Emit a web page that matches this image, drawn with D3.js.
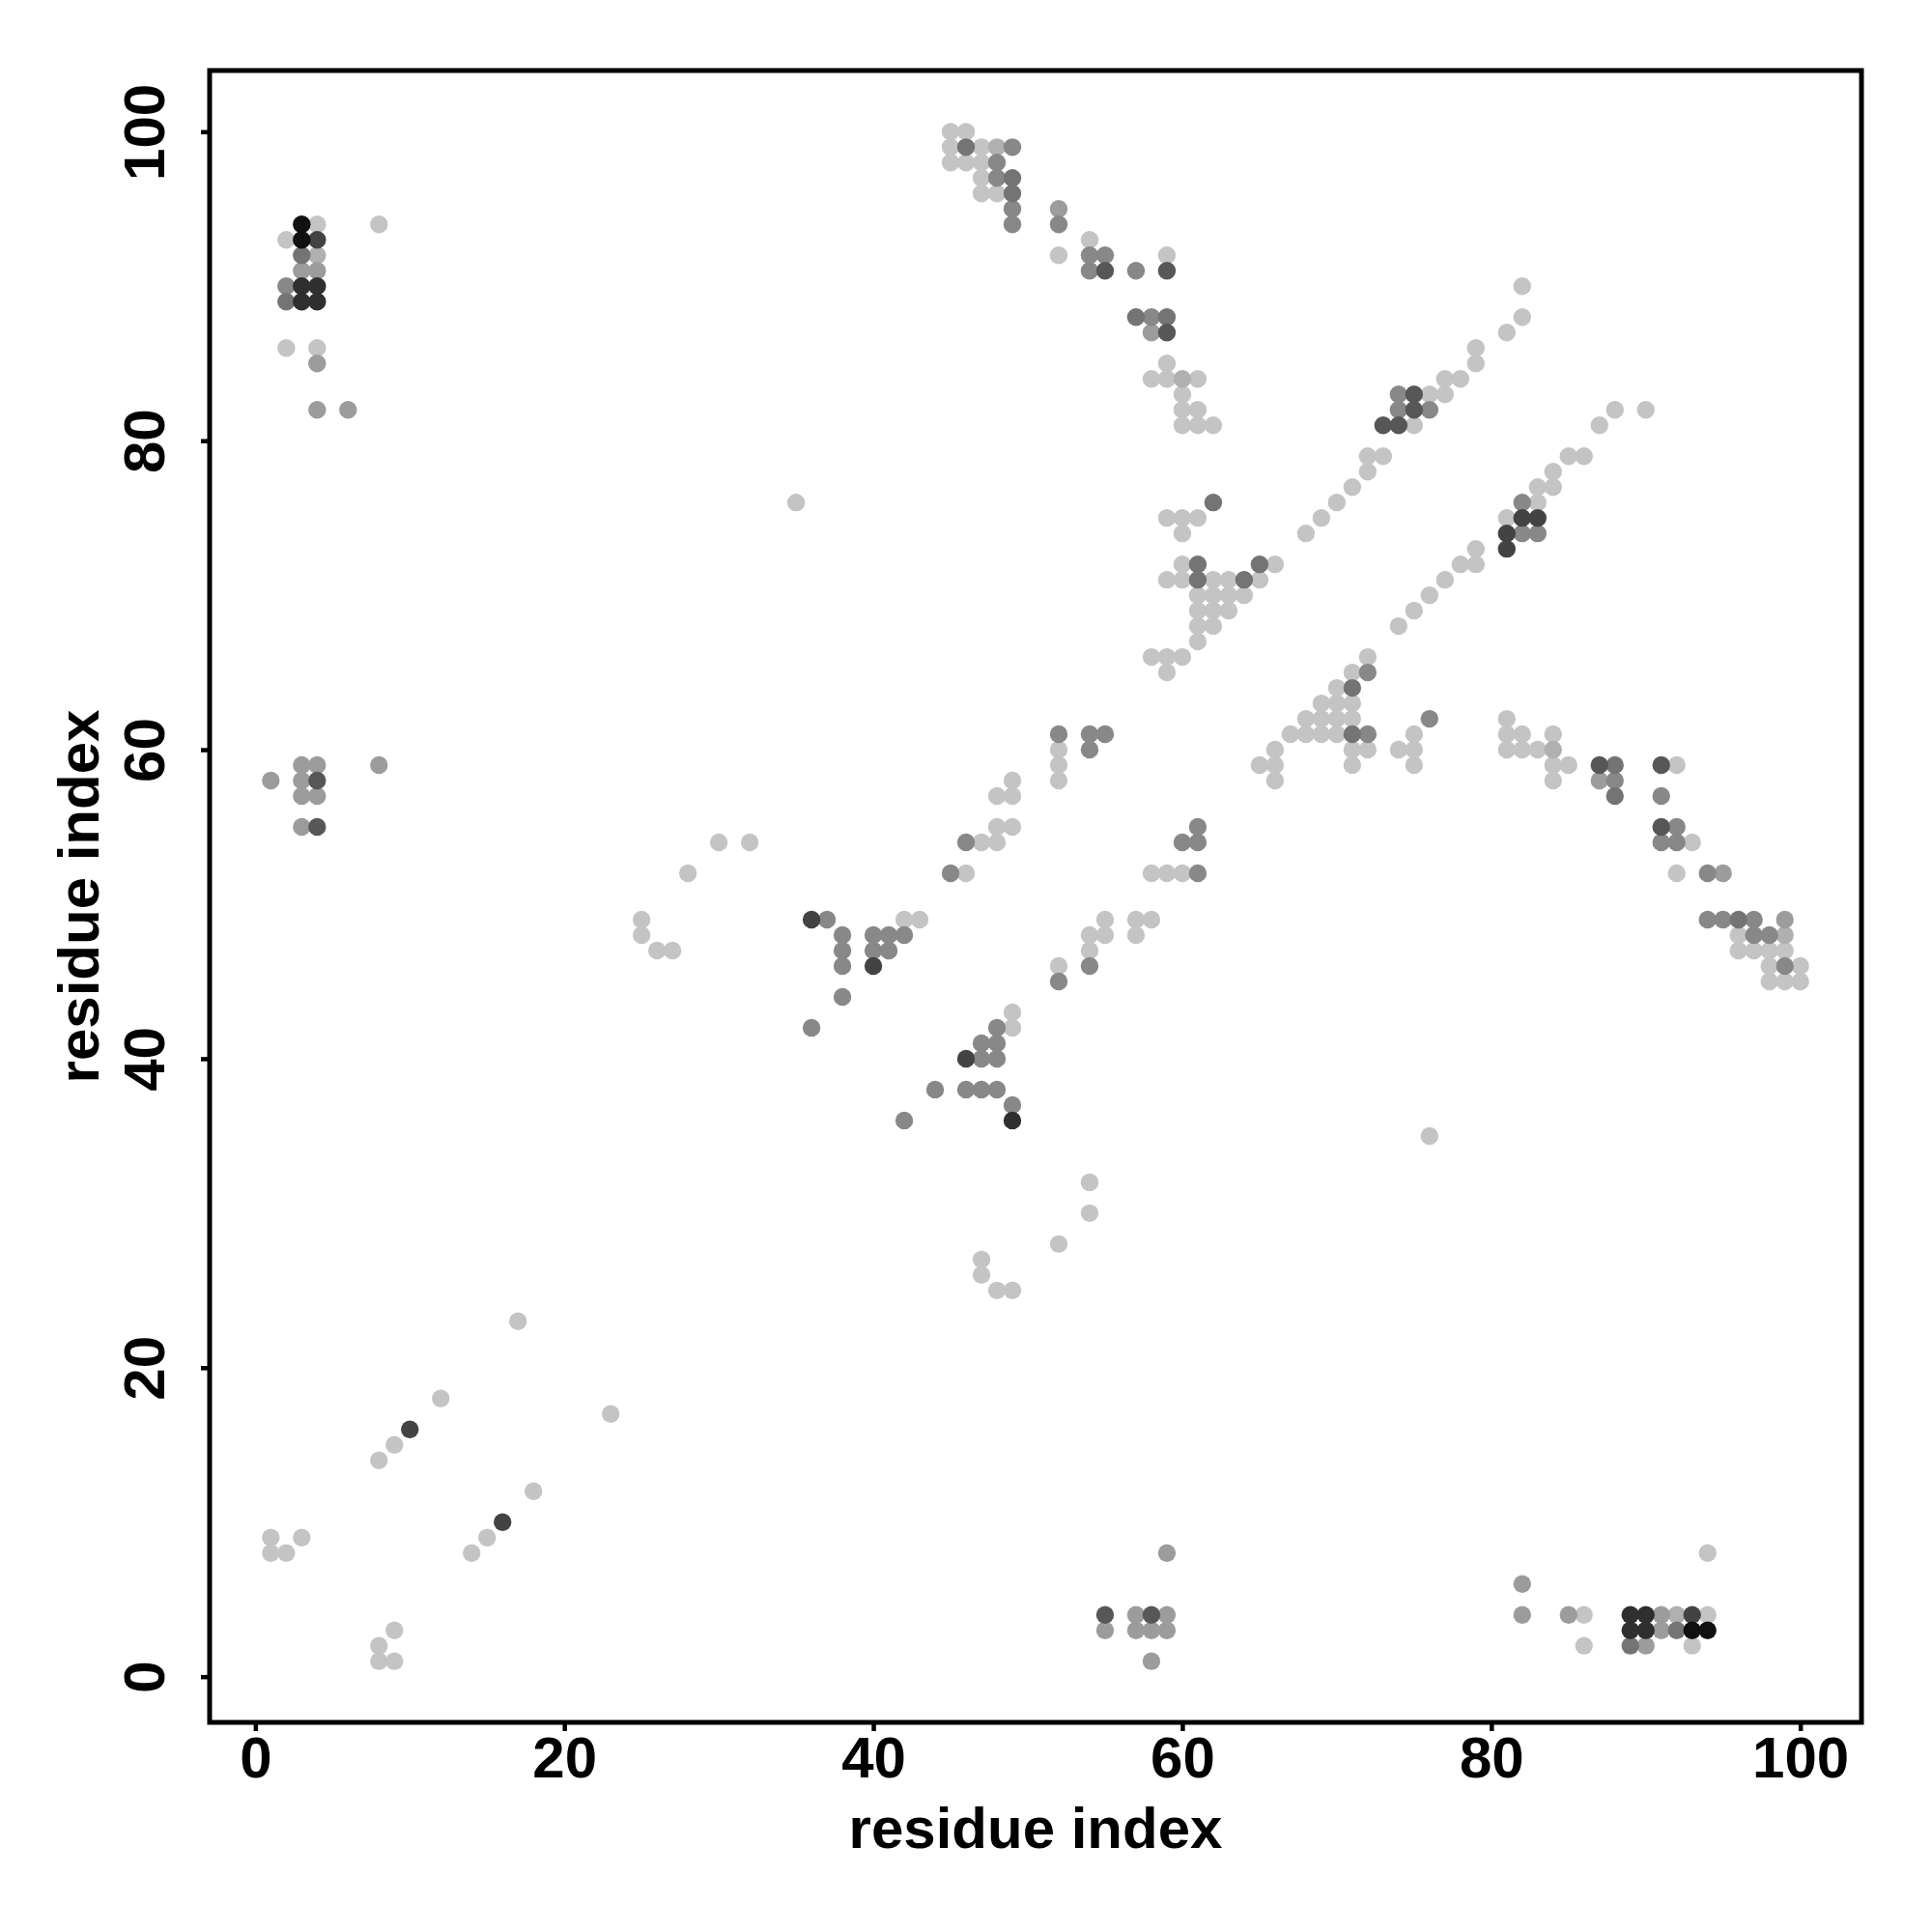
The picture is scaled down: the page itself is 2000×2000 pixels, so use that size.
<!DOCTYPE html>
<html>
<head>
<meta charset="utf-8">
<script src="https://cdn.jsdelivr.net/npm/d3@7"></script>
<style>
  html, body { margin: 0; padding: 0; background: #ffffff; }
  svg text { font-family: "Liberation Sans", Arial, Helvetica, sans-serif; font-weight: bold; fill: #000; }
</style>
</head>
<body>
<svg id="chart" width="2000" height="2000"></svg>
<script>
// ---- data: contacts (residue i, residue j) grouped by predicted score ----
const scoreLevels = [0.1, 0.2, 0.3, 0.4, 0.5, 0.65, 0.75, 0.85, 1.0];

const contacts010 = [
  [4,94],[8,94],[2,93],[2,86],[4,86],
  [17,23],[12,18],[23,17],[9,15],[8,14],[18,12],[15,9],[14,8],[1,9],[3,9],[1,8],[2,8],[9,3],[8,2],[8,1],[9,1],
  [30,54],[32,54],[28,52],[25,49],[25,48],[26,47],[27,47],[35,76],
  [52,60],[52,59],[52,58],[49,58],[48,57],[49,57],[48,55],[49,55],[47,54],[48,54],[46,52],[42,49],[43,49],[52,46],[49,43],[49,42],
  [55,49],[57,49],[58,49],[54,48],[55,48],[57,48],[54,47],[58,52],[59,52],[60,52],
  [54,32],[54,30],[52,28],[47,27],[47,26],[48,25],[49,25],[76,35],
  [86,4],[86,2],[94,4],[93,2],[94,8],
  [45,100],[46,100],[45,99],[47,99],[45,98],[46,98],[47,98],[47,97],[47,96],[48,96],[54,93],[52,92],[59,92],[59,85],
  [58,84],[59,84],[61,84],[60,83],[60,82],[61,82],[60,81],[61,81],[62,81],
  [59,75],[60,75],[61,75],[60,74],[60,72],[66,72],[59,71],[60,71],[62,71],[63,71],[65,71],[61,70],[62,70],[63,70],[64,70],
  [61,69],[62,69],[63,69],[61,68],[62,68],[61,67],[58,66],[59,66],[60,66],[59,65],
  [82,90],[82,88],[81,87],[79,86],[79,85],[77,84],[78,84],[76,83],[77,83],[75,81],[72,79],[73,79],[72,78],[71,77],[70,76],[69,75],[68,74],
  [88,82],[90,82],[87,81],[85,79],[86,79],[84,78],[83,77],[84,77],[83,76],[81,75],[79,73],[78,72],[79,72],[77,71],[76,70],[75,69],[74,68],[72,66],[71,65],[70,64],
  [69,63],[70,63],[71,63],[68,62],[69,62],[70,62],[71,62],[81,62],
  [67,61],[68,61],[69,61],[70,61],[75,61],[81,61],[82,61],[84,61],
  [66,60],[71,60],[72,60],[74,60],[75,60],[81,60],[82,60],[83,60],
  [65,59],[66,59],[71,59],[75,59],[84,59],[85,59],[92,59],
  [66,58],[84,58],[93,54],[92,52],
  [96,48],[96,47],[97,47],[98,47],[99,47],[98,46],[100,46],[98,45],[99,45],[100,45]
];
const contacts020 = [[4,92],[92,4],[48,99],[60,84],[84,60],[99,48]];
const contacts030 = [
  [3,91],[4,91],[4,85],[4,82],[6,82],[3,59],[4,59],[8,59],[1,58],[3,58],[3,57],[4,57],[3,55],
  [59,8],[55,3],[57,4],[59,4],[57,3],[58,3],[59,3],[58,1],[82,6],[82,4],[85,4],[91,4],[91,3],[90,2],
  [52,95],[58,87],[87,58],[95,52],[99,49]
];
const contacts040 = [
  [2,90],[52,61],[54,61],[55,61],[54,60],[46,54],[45,52],[37,49],[38,48],[40,48],[41,48],[42,48],[38,47],[40,47],[41,47],
  [38,46],[54,46],[52,45],[38,44],[36,42],[48,42],[47,41],[48,41],[47,40],[48,40],[44,38],[46,38],[47,38],[48,38],[49,37],[42,36],
  [61,55],[60,54],[61,54],[61,52],
  [49,99],[48,98],[48,97],[49,95],[49,94],[52,94],[54,92],[55,92],[54,91],[57,91],[58,88],
  [74,83],[74,82],[76,82],[82,76],[82,74],[83,74],[72,65],[76,62],[72,61],[88,58],[91,57],[92,55],[91,54],[92,54],[94,52],
  [94,49],[95,49],[97,49],[97,48],[98,48],[99,46]
];
const contacts050 = [
  [3,92],[2,89],[92,3],[89,2],[46,99],[49,97],[49,96],[57,88],[59,88],[62,76],[61,72],[65,72],[61,71],[64,71],
  [71,64],[71,61],[88,59],[88,57],[96,49]
];
const contacts065 = [
  [4,58],[4,55],[55,4],[58,4],[55,91],[59,91],[59,87],[75,83],[75,82],[73,81],[74,81],[87,59],[91,59],[91,55]
];
const contacts075 = [[4,93],[10,16],[16,10],[36,49],[40,46],[46,40],[93,4],[82,75],[83,75],[81,74],[81,73]];
const contacts085 = [[3,90],[4,90],[3,89],[4,89],[49,36],[89,4],[90,4],[89,3],[90,3]];
const contacts100 = [[3,94],[3,93],[93,3],[94,3]];

const contactGroups = [contacts010, contacts020, contacts030, contacts040, contacts050,
                       contacts065, contacts075, contacts085, contacts100];

const xTicks = [0, 20, 40, 60, 80, 100];
const yTicks = [0, 20, 40, 60, 80, 100];
const xTitle = "residue index";
const yTitle = "residue index";

// ---- build table ----
const points = [];
contactGroups.forEach((grp, k) => grp.forEach(([i, j]) => points.push({i, j, score: scoreLevels[k]})));
points.sort((a, b) => a.score - b.score);

// ---- layout ----
const svg = d3.select("#chart");
const plotLeft = 217, plotRight = 1927, plotTop = 73, plotBottom = 1783;

const x = d3.scaleLinear().domain([-2.96, 103.96]).range([plotLeft, plotRight]);
const y = d3.scaleLinear().domain([-2.96, 103.96]).range([plotBottom, plotTop]);
const color = d3.scaleLinear().domain([0.1, 1.0]).range(["#c4c4c4", "#111111"]);

// points
svg.append("g")
  .selectAll("circle")
  .data(points)
  .join("circle")
  .attr("cx", d => x(d.i))
  .attr("cy", d => y(d.j))
  .attr("r", 9.2)
  .attr("fill", d => color(d.score));

// x axis
const xAxis = svg.append("g")
  .attr("transform", `translate(0,${plotBottom})`)
  .call(d3.axisBottom(x).tickValues(xTicks).tickFormat(d3.format("d")).tickSize(9).tickSizeOuter(0).tickPadding(5));
xAxis.select(".domain").remove();
xAxis.selectAll(".tick line").attr("stroke", "#000").attr("stroke-width", 4.5);
xAxis.selectAll(".tick text").attr("font-size", 60).attr("fill", "#000");

// y axis
const yAxis = svg.append("g")
  .attr("transform", `translate(${plotLeft},0)`)
  .call(d3.axisLeft(y).tickValues(yTicks).tickFormat(d3.format("d")).tickSize(9).tickSizeOuter(0));
yAxis.select(".domain").remove();
yAxis.selectAll(".tick line").attr("stroke", "#000").attr("stroke-width", 4.5);
yAxis.selectAll(".tick text")
  .attr("font-size", 60)
  .attr("fill", "#000")
  .attr("transform", "rotate(-90)")
  .attr("x", 0)
  .attr("y", -47)
  .attr("dy", 0)
  .attr("text-anchor", "middle");

// frame
svg.append("rect")
  .attr("x", plotLeft).attr("y", plotTop)
  .attr("width", plotRight - plotLeft).attr("height", plotBottom - plotTop)
  .attr("fill", "none").attr("stroke", "#000").attr("stroke-width", 5);

// titles
svg.append("text")
  .attr("x", (plotLeft + plotRight) / 2).attr("y", 1913)
  .attr("text-anchor", "middle").attr("font-size", 60)
  .text(xTitle);

svg.append("text")
  .attr("transform", `translate(102,${(plotTop + plotBottom) / 2}) rotate(-90)`)
  .attr("text-anchor", "middle").attr("font-size", 60)
  .text(yTitle);
</script>
</body>
</html>
